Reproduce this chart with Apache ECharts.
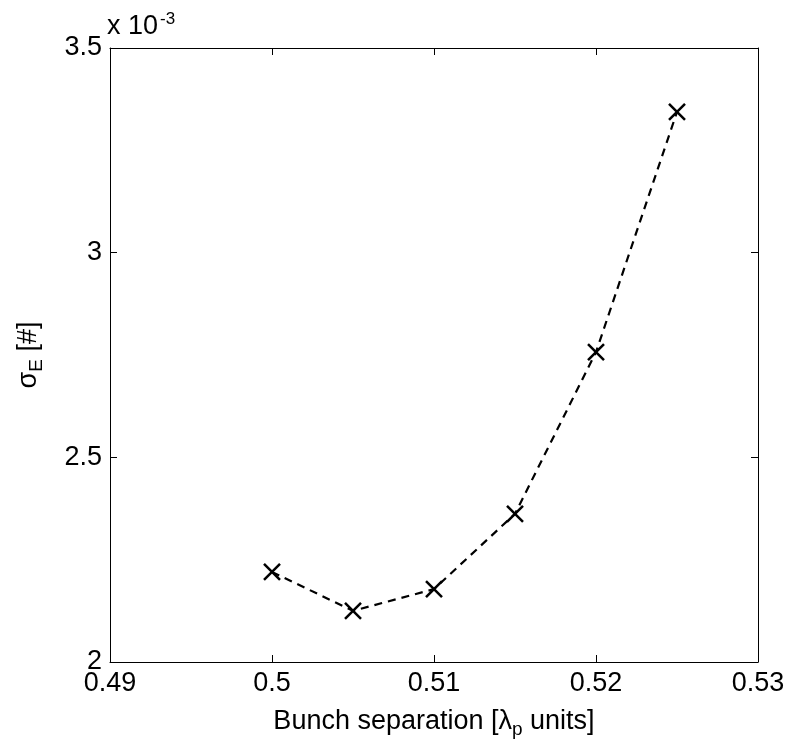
<!DOCTYPE html>
<html><head><meta charset="utf-8">
<script src="https://cdn.jsdelivr.net/npm/echarts@6/dist/echarts.min.js"></script>
<style>html,body{margin:0;padding:0;background:#fff}#c{width:792px;height:749px}</style>
</head><body><div id="c"></div>
<script>
var xValues = [0.500, 0.505, 0.510, 0.515, 0.520, 0.525];
var yValues = [2.220, 2.125, 2.178, 2.362, 2.757, 3.344]; // x 10^-3
var xTicks = [0.49, 0.50, 0.51, 0.52, 0.53];
var yTicks = [2, 2.5, 3, 3.5];

var chart = echarts.init(document.getElementById('c'), null, {renderer: 'canvas'});
var font = 'Liberation Sans, Arial, sans-serif';
var FS = 27;
var data = xValues.map(function (x, i) { return [x, yValues[i]]; });
var axisCommon = {
  axisLine: {show: true, lineStyle: {color: '#000', width: 1}},
  axisTick: {show: true, inside: true, length: 7, lineStyle: {color: '#000', width: 1}},
  splitLine: {show: false},
  axisLabel: {color: '#000', fontSize: FS, fontFamily: font}
};
function fmtX(v) { return String(parseFloat(v.toFixed(2))); }
function fmtY(v) { return String(parseFloat(v.toFixed(1))); }
var subStyle = {fontSize: 19, verticalAlign: 'bottom', padding: [16, 0, 0, 0], fontFamily: font, color: '#000'};
chart.setOption({
  animation: false,
  backgroundColor: '#fff',
  grid: {left: 110, right: 34, top: 48, bottom: 87, containLabel: false},
  xAxis: [
    Object.assign({}, axisCommon, {
      type: 'value', min: 0.49, max: 0.53, interval: 0.01, position: 'bottom',
      axisLabel: Object.assign({}, axisCommon.axisLabel, {margin: 8, formatter: fmtX}),
      name: 'Bunch separation [λ{sub|p} units]', nameLocation: 'middle', nameGap: 42,
      nameTextStyle: {color: '#000', fontSize: FS, fontFamily: font, rich: {sub: subStyle}}
    }),
    Object.assign({}, axisCommon, {
      type: 'value', min: 0.49, max: 0.53, interval: 0.01, position: 'top',
      axisLabel: {show: false}
    })
  ],
  yAxis: [
    Object.assign({}, axisCommon, {
      type: 'value', min: 2, max: 3.5, interval: 0.5, position: 'left',
      axisLabel: Object.assign({}, axisCommon.axisLabel, {margin: 8, formatter: fmtY}),
      name: 'σ{sub|E} [#]', nameLocation: 'middle', nameGap: 64,
      nameTextStyle: {color: '#000', fontSize: FS, fontFamily: font, rich: {sub: subStyle}}
    }),
    Object.assign({}, axisCommon, {
      type: 'value', min: 2, max: 3.5, interval: 0.5, position: 'right',
      axisLabel: {show: false}
    })
  ],
  graphic: [{
    type: 'text', left: 107, top: 11,
    style: {
      text: 'x 10{sup|-3}', fill: '#000', font: FS + 'px ' + font,
      rich: {sup: {fontSize: 17, verticalAlign: 'top', padding: [0, 0, 14, 2], fontFamily: font, fill: '#000'}}
    }
  }],
  series: [{
    type: 'line', data: data, xAxisIndex: 0, yAxisIndex: 0,
    lineStyle: {color: '#000', width: 2.2, type: [8, 6]},
    symbol: 'path://M0,0L10,10M10,0L0,10', symbolSize: 16,
    itemStyle: {color: 'none', borderColor: '#000', borderWidth: 2.5},
    showSymbol: true
  }]
});
</script></body></html>
